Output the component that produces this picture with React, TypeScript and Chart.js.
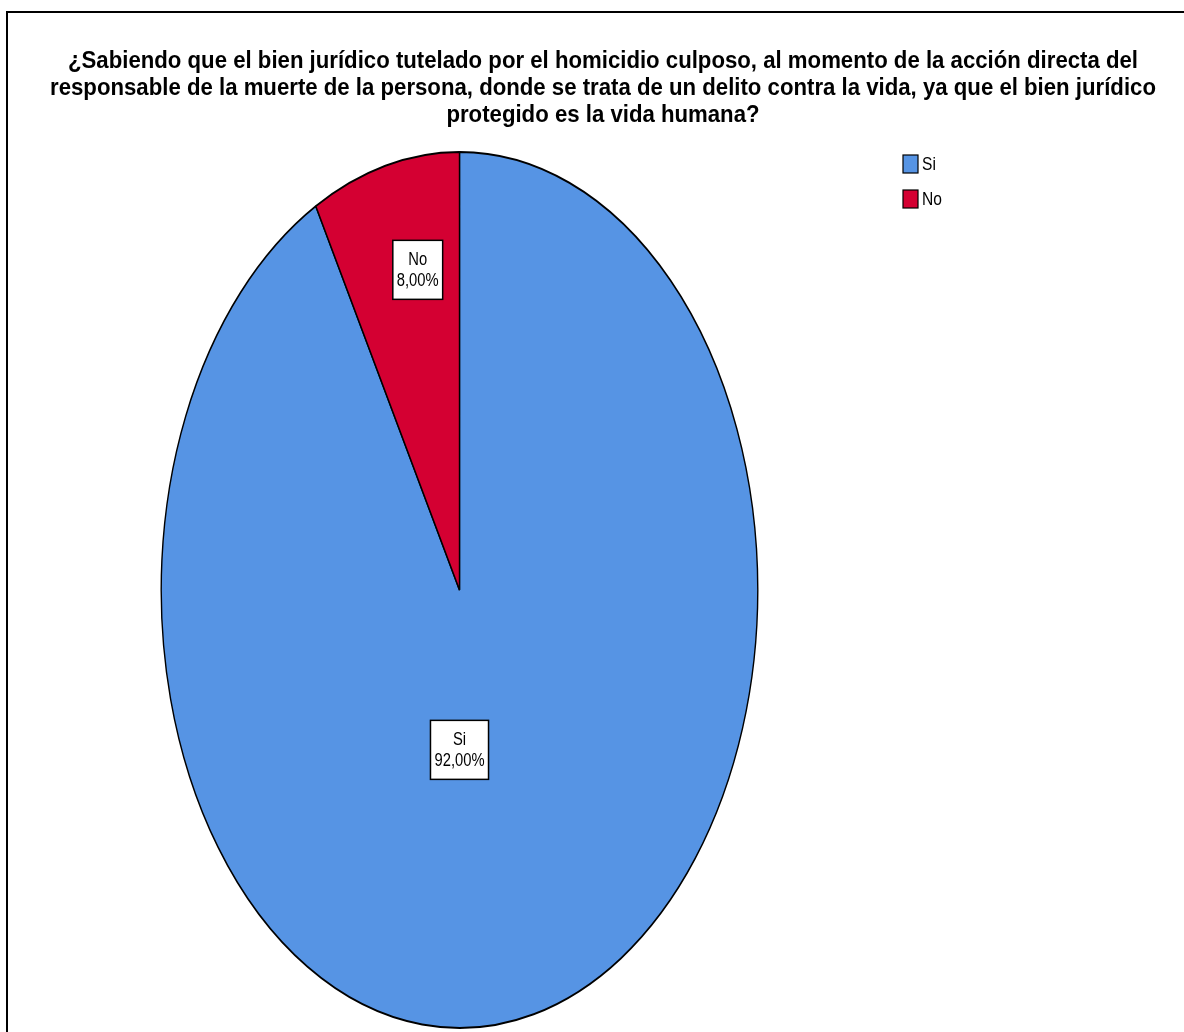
import React, { useEffect, useRef } from "react";
import { Chart, registerables } from "chart.js";

Chart.register(...registerables);

const categories = ["Si", "No"];
const percentages = [92.0, 8.0];
const sliceColors = ["#5694E4", "#D40032"];
const valueLabels = ["92,00%", "8,00%"];
const titleLines = [
  "¿Sabiendo que el bien jurídico tutelado por el homicidio culposo, al momento de la acción directa del",
  "responsable de la muerte de la persona, donde se trata de un delito contra la vida, ya que el bien jurídico",
  "protegido es la vida humana?",
];

const SANS = '"Liberation Sans", Arial, sans-serif';
const NARROW_X = 0.82;
const Y_SCALE = 439 / 299;

function narrowText(ctx: CanvasRenderingContext2D, text: string, x: number, y: number, sx: number) {
  ctx.save();
  ctx.translate(x, y);
  ctx.scale(sx, 1);
  ctx.fillText(text, 0, 0);
  ctx.restore();
}

const framePlugin = {
  id: "frame",
  beforeDraw(chart: any) {
    const ctx = chart.ctx;
    ctx.save();
    ctx.fillStyle = "#ffffff";
    ctx.fillRect(0, 0, chart.width, chart.height);
    ctx.strokeStyle = "#000000";
    ctx.lineWidth = 2;
    ctx.strokeRect(7, 12, chart.width + 20, chart.height + 20);
    ctx.restore();
  },
};

const ellipsePlugin = {
  id: "ellipse",
  beforeDatasetsDraw(chart: any) {
    const arc = chart.getDatasetMeta(0).data[0];
    const ctx = chart.ctx;
    ctx.save();
    ctx.translate(arc.x, arc.y);
    ctx.scale(1, Y_SCALE);
    ctx.translate(-arc.x, -arc.y);
  },
  afterDatasetsDraw(chart: any) {
    chart.ctx.restore();
  },
};

const labelOffsets = [
  [0, 0.365],
  [-0.14, -0.731],
];

const annotationPlugin = {
  id: "annotations",
  afterDraw(chart: any) {
    const ctx = chart.ctx;
    const meta = chart.getDatasetMeta(0);
    const arc0 = meta.data[0];
    const cx = arc0.x;
    const cy = arc0.y;
    const rx = arc0.outerRadius;
    const ry = arc0.outerRadius * Y_SCALE;
    ctx.save();
    // title
    ctx.fillStyle = "#000000";
    ctx.font = `bold 23.5px ${SANS}`;
    ctx.textAlign = "center";
    ctx.textBaseline = "middle";
    const sxTitle = 1070 / ctx.measureText(titleLines[0]).width;
    titleLines.forEach((line, i) => {
      narrowText(ctx, line, 603, 62 + i * 27, sxTitle);
    });
    // legend
    ctx.font = `19px ${SANS}`;
    ctx.textAlign = "left";
    categories.forEach((c, i) => {
      const y = 155 + i * 35;
      ctx.fillStyle = sliceColors[i];
      ctx.fillRect(903, y, 15, 18);
      ctx.strokeStyle = "#000";
      ctx.lineWidth = 1.2;
      ctx.strokeRect(903, y, 15, 18);
      ctx.fillStyle = "#000";
      narrowText(ctx, c, 922, y + 10, NARROW_X);
    });
    // data labels
    ctx.font = `18px ${SANS}`;
    ctx.textAlign = "center";
    meta.data.forEach((arc: any, i: number) => {
      const lx = cx + labelOffsets[i][0] * rx;
      const ly = cy + labelOffsets[i][1] * ry;
      const lines = [categories[i], valueLabels[i]];
      const w = Math.max(...lines.map((l) => ctx.measureText(l).width)) * NARROW_X + 8;
      const h = 59;
      ctx.fillStyle = "#ffffff";
      ctx.fillRect(lx - w / 2, ly - h / 2, w, h);
      ctx.strokeStyle = "#000";
      ctx.lineWidth = 1.5;
      ctx.strokeRect(lx - w / 2, ly - h / 2, w, h);
      ctx.fillStyle = "#000";
      narrowText(ctx, lines[0], lx, ly - 10, NARROW_X);
      narrowText(ctx, lines[1], lx, ly + 11, NARROW_X);
    });
    ctx.restore();
  },
};

export default function App() {
  const ref = useRef<HTMLCanvasElement | null>(null);
  useEffect(() => {
    document.body.style.margin = "0";
    const canvas = ref.current!;
    const chart = new Chart(canvas, {
      type: "pie",
      data: {
        labels: categories,
        datasets: [
          {
            data: percentages,
            backgroundColor: sliceColors,
            borderColor: "#000000",
            borderWidth: 1.4,
          },
        ],
      },
      options: {
        responsive: false,
        animation: false,
        rotation: 0,
        layout: { padding: { left: 160, right: 425, top: 291, bottom: 143 } },
        plugins: {
          legend: { display: false },
          title: { display: false },
          tooltip: { enabled: false },
        },
      },
      plugins: [framePlugin, ellipsePlugin, annotationPlugin],
    });
    return () => chart.destroy();
  }, []);
  return (
    <div style={{ width: 1184, height: 1032, overflow: "hidden" }}>
      <canvas ref={ref} width={1184} height={1032} style={{ display: "block" }} />
    </div>
  );
}
